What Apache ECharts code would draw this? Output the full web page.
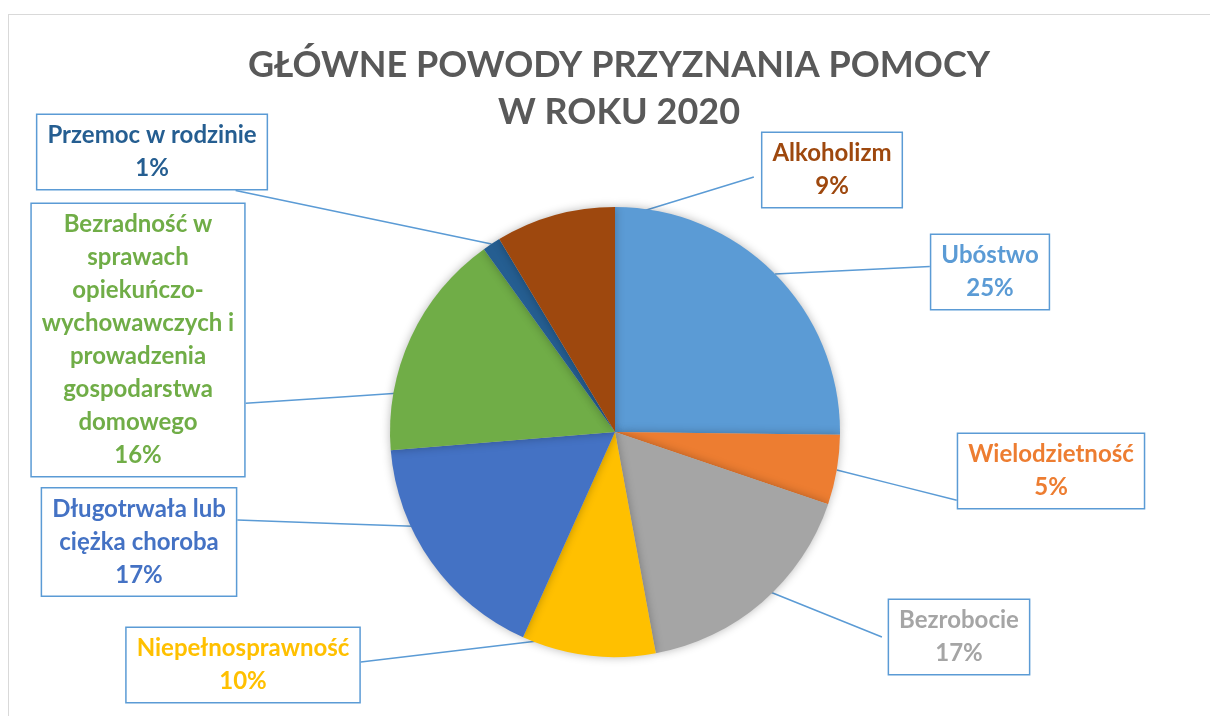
<!DOCTYPE html>
<html><head><meta charset="utf-8">
<script src="https://cdn.jsdelivr.net/npm/echarts@6/dist/echarts.min.js"></script>
<style>
html,body{margin:0;padding:0;background:#fff;overflow:hidden}
#frame{position:absolute;left:8px;top:14px;width:1400px;height:900px;border:1.5px solid #D9D9D9;box-sizing:border-box}
#chart{position:absolute;left:0;top:0;width:1210px;height:716px}
</style></head><body><div id="frame"></div><div id="chart"></div>
<script>
// ---- data ----
const titleLines = ['GŁÓWNE POWODY PRZYZNANIA POMOCY', 'W ROKU 2020'];
const categories = ['Ubóstwo', 'Wielodzietność', 'Bezrobocie', 'Niepełnosprawność',
  'Długotrwała lub ciężka choroba',
  'Bezradność w sprawach opiekuńczo-wychowawczych i prowadzenia gospodarstwa domowego',
  'Przemoc w rodzinie', 'Alkoholizm'];
const shares = [25.2, 5.0, 16.9, 9.6, 17.0, 16.4, 1.3, 8.6];
const sliceColors = ['#5B9BD5', '#ED7D31', '#A5A5A5', '#FFC000', '#4472C4', '#70AD47', '#255E91', '#9E480E'];

// ---- layout ----
const pieCenter = [615, 432];
const pieRadius = 225;
const labelFontSize = 24;
const labelFont = 'bold ' + labelFontSize + 'px Lato';
const labelCenters = [[990, 272], [1051, 471], [959, 637], [243, 665], [139, 542], [138, 340], [152, 152], [832, 170]];
const wrapWidths = [400, 400, 400, 400, 210, 215, 400, 400];
const leaderRadius = [1, 1, 0.91, 0.92, 0.82, 0.78, 1, 0.91];
const leaderTurn = [0, 0, -1, 3, 4, -11, 0, 6];
const leaderEnd = [[0, 0.43], [0, 0.88], [-0.04, 0.5], [1, 0.46], [1, 0.3], [1, 0.73], [0.86, 1], [-0.05, 0.59]];

const ctx = document.createElement('canvas').getContext('2d');
ctx.font = labelFont;
function wrap(text, maxW) {
  const parts = [];
  const re = /([^ \-]+-?)( ?)/g;
  let m;
  while ((m = re.exec(text)) !== null) parts.push({ w: m[1], sp: m[2] === ' ' });
  const lines = [];
  let cur = '', prevSp = false;
  parts.forEach(function (p) {
    const cand = cur === '' ? p.w : cur + (prevSp ? ' ' : '') + p.w;
    if (cur !== '' && ctx.measureText(cand).width > maxW) { lines.push(cur); cur = p.w; }
    else cur = cand;
    prevSp = p.sp;
  });
  if (cur) lines.push(cur);
  return lines.join('\n');
}

const chart = echarts.init(document.getElementById('chart'), null, { renderer: 'canvas' });
chart.setOption({
  animation: false,
  color: sliceColors,
  title: {
    text: titleLines.join('\n'),
    left: 614, top: 37, textAlign: 'center',
    textStyle: { fontFamily: 'Lato', fontWeight: 'bold', fontSize: 36, lineHeight: 47, color: '#595959' }
  },
  series: [{
    type: 'pie',
    center: pieCenter,
    radius: pieRadius,
    startAngle: 90,
    clockwise: true,
    percentPrecision: 0,
    avoidLabelOverlap: false,
    itemStyle: { shadowBlur: 10, shadowColor: 'rgba(0,0,0,0.28)', borderWidth: 0 },
    data: categories.map(function (c, i) {
      return { name: c, value: shares[i], label: { color: sliceColors[i] } };
    }),
    label: {
      show: true,
      position: 'outside',
      formatter: function (p) { return wrap(p.name, wrapWidths[p.dataIndex]) + '\n' + p.percent + '%'; },
      fontFamily: 'Lato', fontWeight: 'bold', fontSize: labelFontSize, lineHeight: 33,
      backgroundColor: '#fff', borderColor: '#5B9BD5', borderWidth: 1.5,
      padding: [4, 10], align: 'center'
    },
    labelLine: { show: true, length: 10, length2: 10, lineStyle: { color: '#5B9BD5', width: 1.5 } },
    emphasis: { disabled: true },
    labelLayout: function (p) {
      const i = p.dataIndex;
      const cx = pieCenter[0], cy = pieCenter[1];
      const p0 = p.labelLinePoints ? p.labelLinePoints[0] : [cx + 1, cy];
      const ang = Math.atan2(p0[1] - cy, p0[0] - cx) + leaderTurn[i] * Math.PI / 180;
      const r = pieRadius * leaderRadius[i];
      const sx = cx + r * Math.cos(ang), sy = cy + r * Math.sin(ang);
      const w = p.labelRect.width, h = p.labelRect.height;
      const lx = labelCenters[i][0], ly = labelCenters[i][1];
      const ex = lx - w / 2 + leaderEnd[i][0] * w, ey = ly - h / 2 + leaderEnd[i][1] * h;
      return {
        x: lx, y: ly, align: 'center', verticalAlign: 'middle',
        labelLinePoints: [[sx, sy], [(sx + ex) / 2, (sy + ey) / 2], [ex, ey]]
      };
    }
  }]
});
</script></body></html>
